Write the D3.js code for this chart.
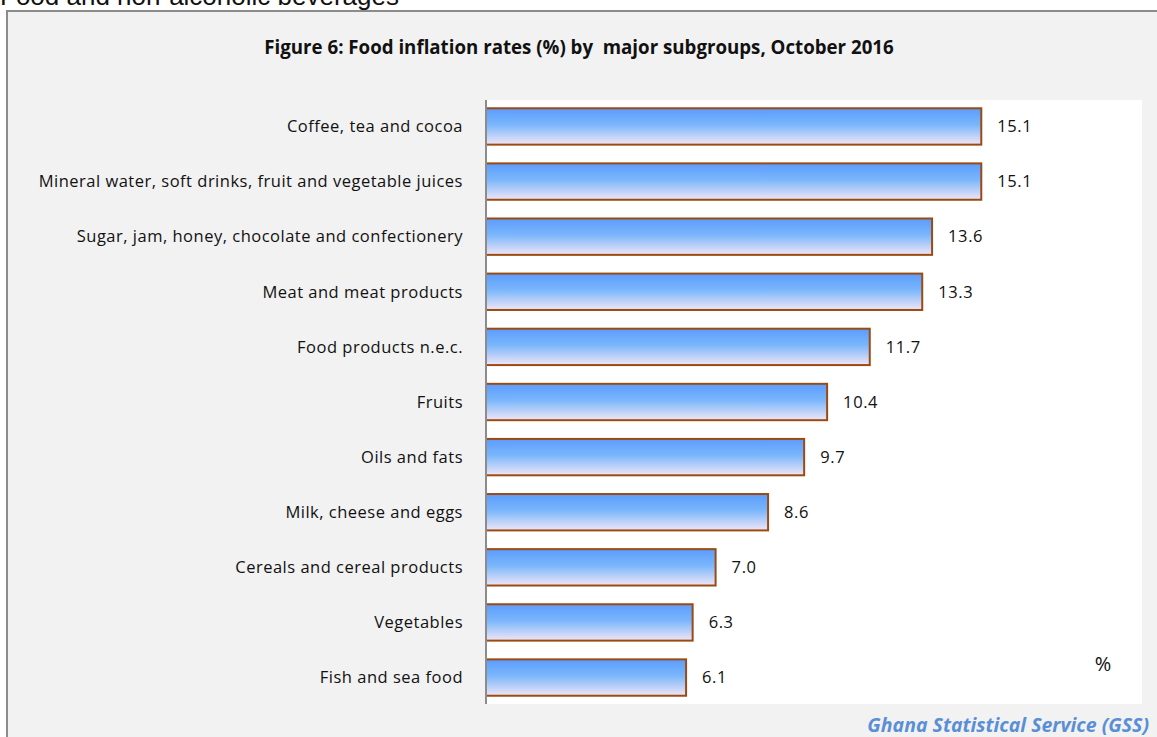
<!DOCTYPE html>
<html>
<head>
<meta charset="utf-8">
<script src="https://cdn.jsdelivr.net/npm/d3@7"></script>
<style>
  body { margin: 0; background: #fff; }
  svg { display: block; }
</style>
</head>
<body>
<script>
const categories = [
  'Coffee, tea and cocoa',
  'Mineral water, soft drinks, fruit and vegetable juices',
  'Sugar, jam, honey, chocolate and confectionery',
  'Meat and meat products',
  'Food products n.e.c.',
  'Fruits',
  'Oils and fats',
  'Milk, cheese and eggs',
  'Cereals and cereal products',
  'Vegetables',
  'Fish and sea food'
];
const values = [15.1, 15.1, 13.6, 13.3, 11.7, 10.4, 9.7, 8.6, 7.0, 6.3, 6.1];

const width = 1157,
      height = 737;

const font = '"Open Sans", Lato, sans-serif';

const svg = d3.select('body')
              .append('svg')
              .attr('width', width)
              .attr('height', height);

// gradient for bars
const grad = svg.append('defs')
                .append('linearGradient')
                .attr('id', 'barGrad')
                .attr('x1', 0).attr('y1', 0)
                .attr('x2', 0).attr('y2', 1);
grad.append('stop').attr('offset', '0%').attr('stop-color', '#5c9cfd');
grad.append('stop').attr('offset', '45%').attr('stop-color', '#7ab6fb');
grad.append('stop').attr('offset', '100%').attr('stop-color', '#f0e6f6');

// page heading, cut off at the top
svg.append('text')
   .attr('x', 0)
   .attr('y', 5)
   .attr('font-family', 'Arial, "Liberation Sans", sans-serif')
   .attr('font-size', 26)
   .attr('fill', '#111')
   .text('Food and non-alcoholic beverages');

// outer frame
svg.append('rect')
   .attr('x', 7)
   .attr('y', 11)
   .attr('width', width + 10)
   .attr('height', height + 10)
   .attr('fill', '#f2f2f2')
   .attr('stroke', '#8c8c8c')
   .attr('stroke-width', 2);

const plot = { left: 486, right: 1142, top: 100, bottom: 704 };

// plot area
svg.append('rect')
   .attr('x', plot.left)
   .attr('y', plot.top)
   .attr('width', plot.right - plot.left)
   .attr('height', plot.bottom - plot.top)
   .attr('fill', '#fff');

svg.append('text')
   .attr('x', 579)
   .attr('y', 54)
   .attr('text-anchor', 'middle')
   .attr('font-family', font)
   .attr('font-weight', 'bold')
   .attr('font-size', 18.7)
   .attr('fill', '#111')
   .style('white-space', 'pre')
   .text('Figure 6: Food inflation rates (%) by  major subgroups, October 2016');

const x = d3.scaleLinear()
            .domain([0, 20])
            .range([plot.left, plot.right]);

const y = d3.scaleBand()
            .domain(categories)
            .range([plot.top, plot.bottom])
            .paddingInner(0.34)
            .paddingOuter(0.15);

svg.selectAll('rect.bar')
   .data(values)
   .enter()
   .append('rect')
   .attr('class', 'bar')
   .attr('x', x(0))
   .attr('y', function(d, i) { return y(categories[i]); })
   .attr('width', function(d) { return x(d) - x(0); })
   .attr('height', y.bandwidth())
   .attr('fill', 'url(#barGrad)')
   .attr('stroke', '#9b4a12')
   .attr('stroke-width', 2);

svg.selectAll('text.val')
   .data(values)
   .enter()
   .append('text')
   .attr('class', 'val')
   .attr('x', function(d) { return x(d) + 16; })
   .attr('y', function(d, i) { return y(categories[i]) + y.bandwidth() / 2; })
   .attr('dy', '0.35em')
   .attr('font-family', font)
   .attr('font-size', 16.5)
   .attr('letter-spacing', 0.6)
   .attr('fill', '#111')
   .text(function(d) { return d.toFixed(1); });

svg.selectAll('text.cat')
   .data(categories)
   .enter()
   .append('text')
   .attr('class', 'cat')
   .attr('x', 463)
   .attr('y', function(d) { return y(d) + y.bandwidth() / 2; })
   .attr('dy', '0.35em')
   .attr('text-anchor', 'end')
   .attr('font-family', font)
   .attr('font-size', 16.5)
   .attr('letter-spacing', 0.5)
   .attr('fill', '#111')
   .text(function(d) { return d; });

// category axis line
svg.append('line')
   .attr('x1', plot.left)
   .attr('x2', plot.left)
   .attr('y1', plot.top)
   .attr('y2', plot.bottom)
   .attr('stroke', '#8c8c8c')
   .attr('stroke-width', 2);

svg.append('text')
   .attr('x', 1103)
   .attr('y', 671)
   .attr('text-anchor', 'middle')
   .attr('font-family', font)
   .attr('font-size', 20)
   .attr('fill', '#111')
   .text('%');

svg.append('text')
   .attr('x', 1149)
   .attr('y', 732)
   .attr('text-anchor', 'end')
   .attr('font-family', font)
   .attr('font-weight', 'bold')
   .attr('font-style', 'italic')
   .attr('font-size', 19.5)
   .attr('fill', '#5b8fd5')
   .text('Ghana Statistical Service (GSS)');
</script>
</body>
</html>
